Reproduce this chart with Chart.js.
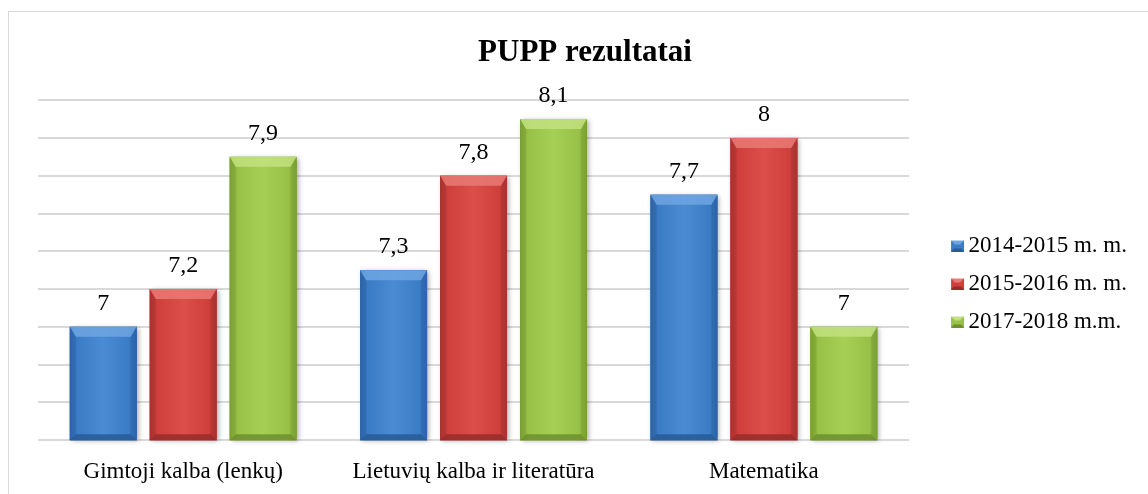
<!DOCTYPE html>
<html>
<head>
<meta charset="utf-8">
<script src="https://cdn.jsdelivr.net/npm/chart.js@4"></script>
<style>
  html, body { margin: 0; padding: 0; background: #fff; overflow: hidden; }
  #frame { position: absolute; left: 8px; top: 11px; width: 1152px; height: 491px; border: 1px solid #d9d9d9; }
</style>
</head>
<body>
<div id="frame"><canvas id="chart" width="1152" height="491"></canvas></div>
<script>
// Data
const categories = ['Gimtoji kalba (lenkų)', 'Lietuvių kalba ir literatūra', 'Matematika'];
const seriesNames = ['2014-2015 m. m.', '2015-2016 m. m.', '2017-2018 m.m.'];
const values2014 = [7, 7.3, 7.7];
const values2015 = [7.2, 7.8, 8];
const values2017 = [7.9, 8.1, 7];
const yMin = 6.4;
const yMax = 8.2;
const yStep = 0.2;

// colours: [dark edge, base, light centre, top bevel, bottom bevel]
const palettes = [
  ['#2c64a8', '#3b7cc6', '#4a8bd3', '#6fa6e0', '#285a96'],
  ['#a8322f', '#cf403d', '#dc4e4a', '#e97a76', '#962c2a'],
  ['#7b9f35', '#97c147', '#a5cf55', '#c2e07f', '#6f8f2e']
];

Chart.defaults.font.family = '"Liberation Serif", "Times New Roman", serif';
Chart.defaults.color = '#000';

// small bevelled square for the legend, drawn at the right side of its canvas
function legendIcon(p) {
  const c = document.createElement('canvas');
  c.width = 30; c.height = 12;
  const g = c.getContext('2d');
  const l = 16, t = 1, w = 13, h = 11;
  g.fillStyle = p[1];
  g.fillRect(l, t, w, h);
  g.fillStyle = p[3];
  g.beginPath(); g.moveTo(l, t); g.lineTo(l + w, t); g.lineTo(l + w - 4, t + 4); g.lineTo(l + 4, t + 4); g.fill();
  g.fillStyle = p[4];
  g.beginPath(); g.moveTo(l, t + h); g.lineTo(l + w, t + h); g.lineTo(l + w - 3, t + h - 3); g.lineTo(l + 3, t + h - 3); g.fill();
  return c;
}
const legendIcons = palettes.map(legendIcon);

function bevelBar(ctx, el, p, bottom) {
  const l = el.x - el.width / 2, r = el.x + el.width / 2;
  const t = el.y, b = Math.min(el.base, bottom);
  const ds = 6, dt = 10, db = 6;
  ctx.save();
  ctx.shadowColor = 'rgba(0,0,0,0.35)';
  ctx.shadowBlur = 5;
  ctx.shadowOffsetX = 2;
  ctx.shadowOffsetY = 1;
  const grad = ctx.createLinearGradient(l, 0, r, 0);
  grad.addColorStop(0, p[0]);
  grad.addColorStop(0.12, p[1]);
  grad.addColorStop(0.5, p[2]);
  grad.addColorStop(0.88, p[1]);
  grad.addColorStop(1, p[0]);
  ctx.fillStyle = grad;
  ctx.fillRect(l, t, r - l, b - t);
  ctx.restore();

  ctx.save();
  // top
  ctx.fillStyle = p[3];
  ctx.globalAlpha = 0.85;
  ctx.beginPath();
  ctx.moveTo(l, t); ctx.lineTo(r, t); ctx.lineTo(r - ds, t + dt); ctx.lineTo(l + ds, t + dt); ctx.closePath();
  ctx.fill();
  // bottom
  ctx.fillStyle = p[4];
  ctx.beginPath();
  ctx.moveTo(l, b); ctx.lineTo(r, b); ctx.lineTo(r - ds, b - db); ctx.lineTo(l + ds, b - db); ctx.closePath();
  ctx.fill();
  // sides
  ctx.globalAlpha = 0.45;
  ctx.fillStyle = p[0];
  ctx.beginPath();
  ctx.moveTo(l, t); ctx.lineTo(l + ds, t + dt); ctx.lineTo(l + ds, b - db); ctx.lineTo(l, b); ctx.closePath();
  ctx.fill();
  ctx.beginPath();
  ctx.moveTo(r, t); ctx.lineTo(r - ds, t + dt); ctx.lineTo(r - ds, b - db); ctx.lineTo(r, b); ctx.closePath();
  ctx.fill();
  ctx.restore();
}

const barLook = {
  id: 'barLook',
  afterDatasetsDraw(chart) {
    const ctx = chart.ctx;
    const bottom = chart.chartArea.bottom;
    chart.data.datasets.forEach((ds, i) => {
      chart.getDatasetMeta(i).data.forEach(el => bevelBar(ctx, el, palettes[i], bottom));
    });
    // value labels
    ctx.save();
    ctx.font = '24px "Liberation Serif", serif';
    ctx.fillStyle = '#000';
    ctx.textAlign = 'center';
    ctx.textBaseline = 'alphabetic';
    chart.data.datasets.forEach((ds, i) => {
      chart.getDatasetMeta(i).data.forEach((el, j) => {
        ctx.fillText(String(ds.data[j]).replace('.', ','), el.x, el.y - 17);
      });
    });
    ctx.restore();
  }
};

const ctx = document.getElementById('chart');

new Chart(ctx, {
  type: 'bar',
  data: {
    labels: categories,
    datasets: [
      { label: seriesNames[0], data: values2014, backgroundColor: palettes[0][1] },
      { label: seriesNames[1], data: values2015, backgroundColor: palettes[1][1] },
      { label: seriesNames[2], data: values2017, backgroundColor: palettes[2][1] }
    ]
  },
  options: {
    responsive: false,
    animation: false,
    categoryPercentage: 0.826,
    barPercentage: 0.8375,
    layout: {
      padding: { top: 0, right: 24, bottom: 0, left: 24 }
    },
    scales: {
      x: {
        grid: { display: false, drawTicks: false },
        border: { display: false },
        ticks: { font: { size: 23 }, padding: 17.6, color: '#000', maxRotation: 0, minRotation: 0, autoSkip: false }
      },
      y: {
        min: yMin,
        max: yMax,
        ticks: { stepSize: yStep, display: false },
        grid: { color: '#d9d9d9', lineWidth: 2, drawTicks: false },
        border: { display: false },
        afterFit(scale) { scale.width = 5; }
      },
      yRight: {
        type: 'linear',
        position: 'right',
        ticks: { display: false },
        grid: { display: false, drawTicks: false },
        border: { display: false },
        afterFit(scale) { scale.width = 19; }
      }
    },
    plugins: {
      title: {
        display: true,
        text: 'PUPP rezultatai',
        font: { size: 31, weight: 'bold' },
        color: '#000',
        padding: { top: 22, bottom: 29 }
      },
      legend: {
        position: 'right',
        maxWidth: 400,
        title: { display: true, text: ' ', font: { size: 10 }, padding: 20 },
        labels: {
          font: { size: 23 },
          color: '#000',
          padding: 15,
          usePointStyle: true,
          pointStyleWidth: 14,
          generateLabels(chart) {
            const items = Chart.defaults.plugins.legend.labels.generateLabels(chart);
            items.forEach((it, i) => { it.pointStyle = legendIcons[i]; });
            return items;
          }
        }
      },
      tooltip: { enabled: false }
    }
  },
  plugins: [barLook]
});
</script>
</body>
</html>
